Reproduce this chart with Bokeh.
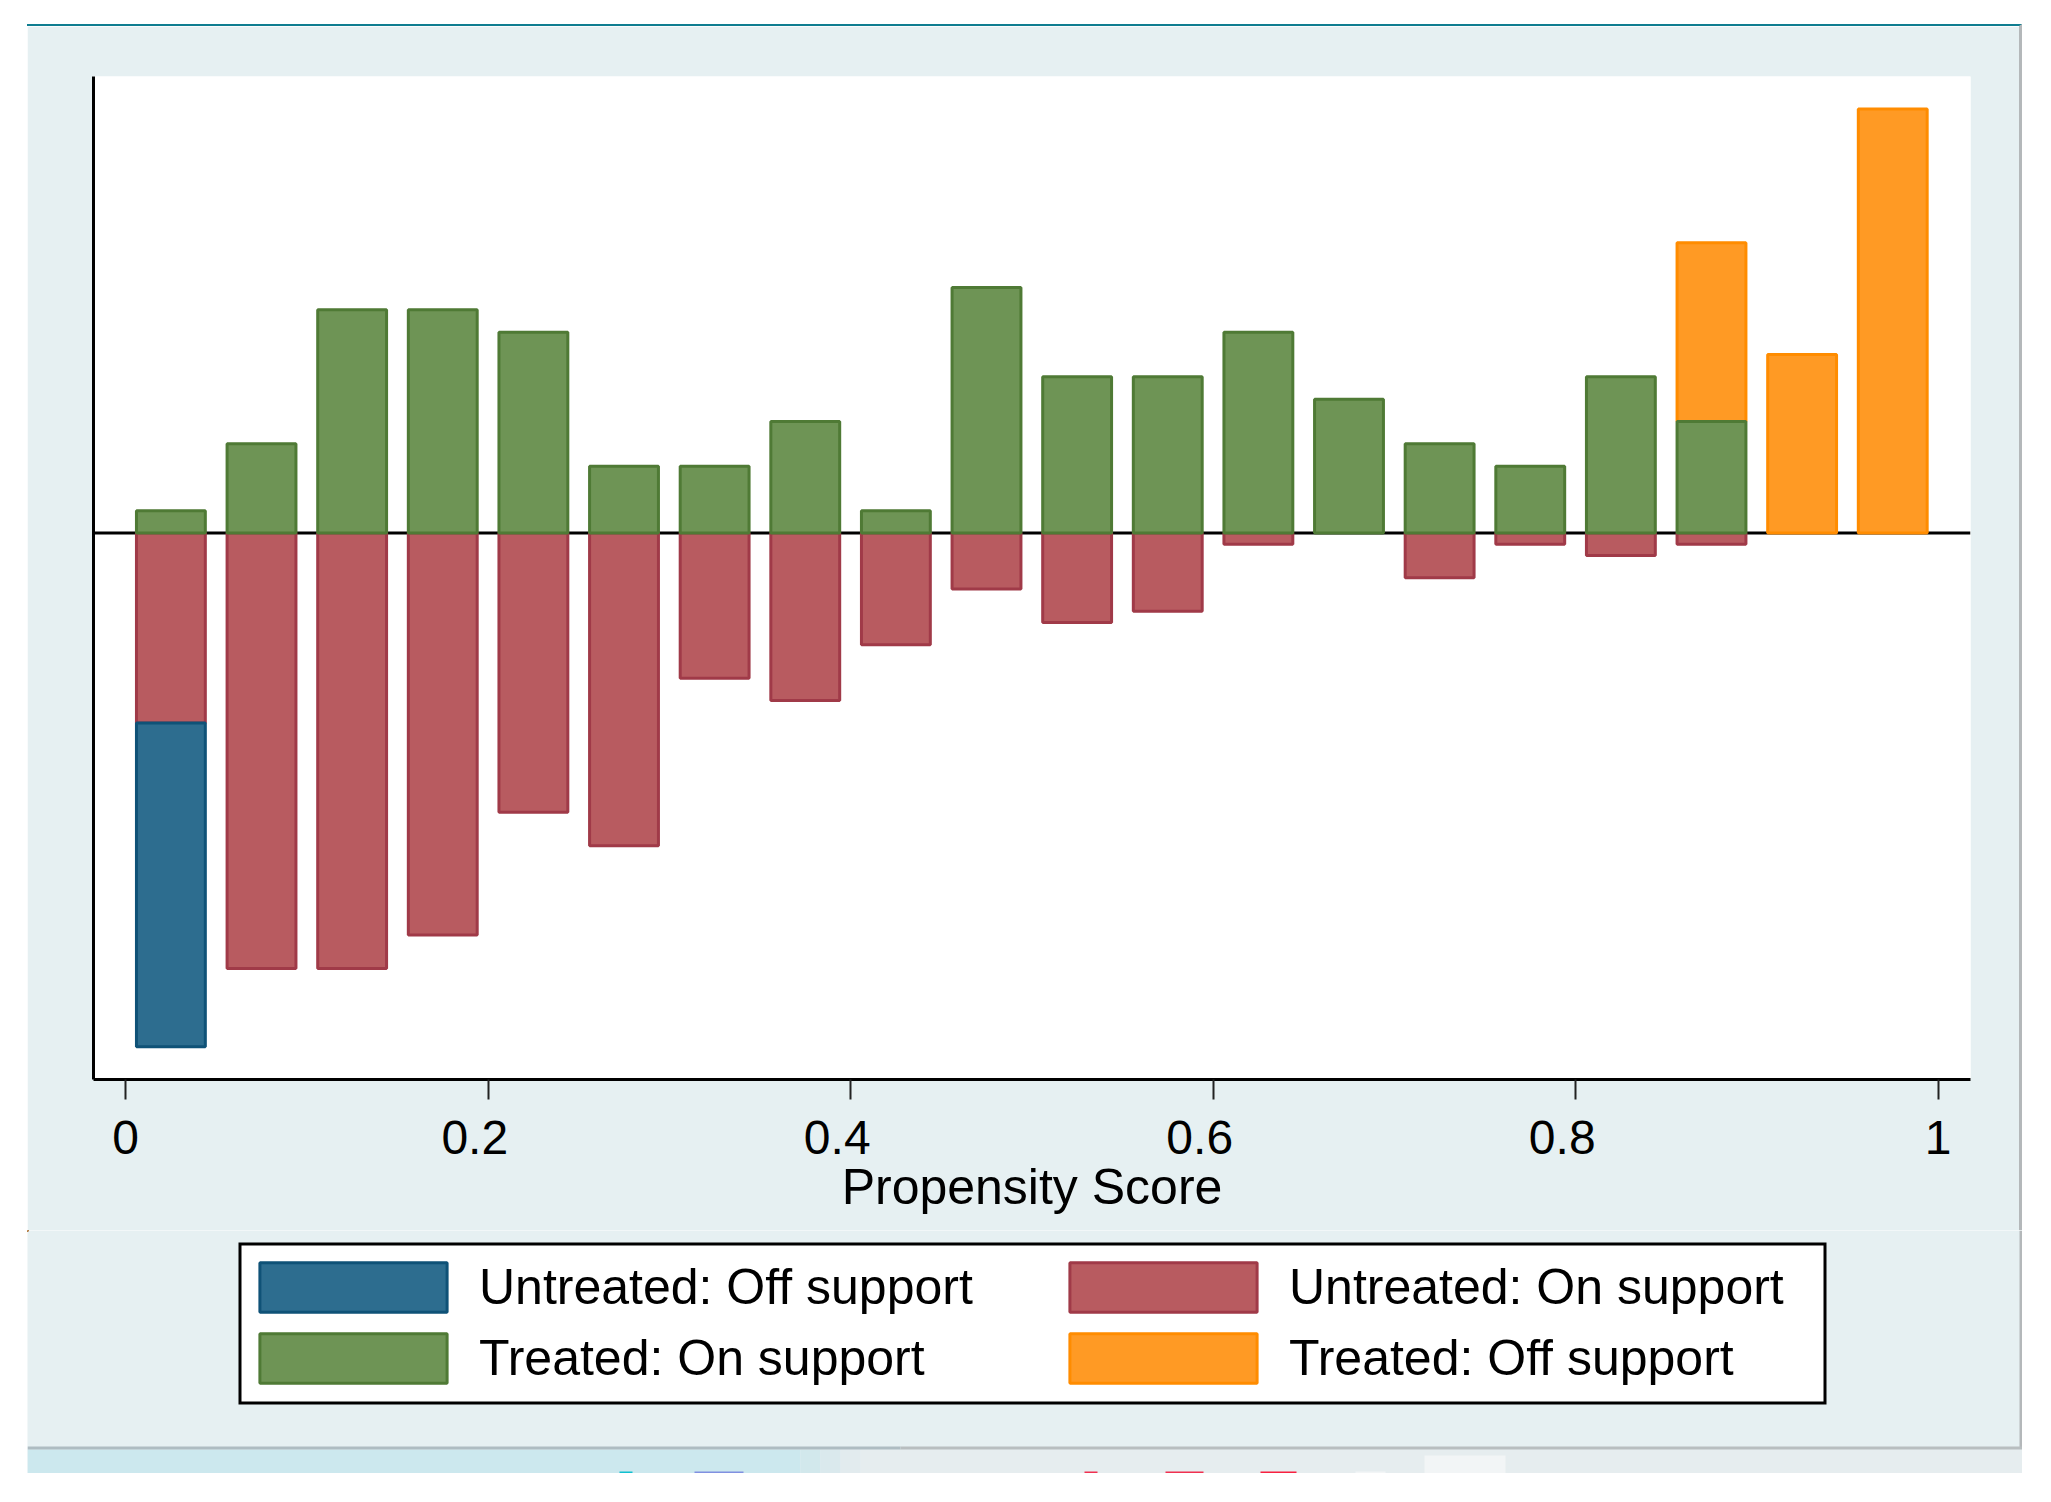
from bokeh.plotting import figure
from bokeh.layouts import column
from bokeh.models import Span, Legend, LegendItem, FixedTicker, Range1d
from bokeh.embed import file_html
from bokeh.resources import INLINE

bin_centers = [0.025, 0.075, 0.125, 0.175, 0.225, 0.275, 0.325, 0.375, 0.425, 0.475,
               0.525, 0.575, 0.625, 0.675, 0.725, 0.775, 0.825, 0.875, 0.925, 0.975]
treated_on = [1, 4, 10, 10, 9, 3, 3, 5, 1, 11, 7, 7, 9, 6, 4, 3, 7, 5, 0, 0]
treated_off = [0, 0, 0, 0, 0, 0, 0, 0, 0, 0, 0, 0, 0, 0, 0, 0, 0, 8, 8, 19]
untreated_on = [8.5, 19.5, 19.5, 18, 12.5, 14, 6.5, 7.5, 5, 2.5, 4, 3.5, 0.5, 0, 2, 0.5, 1, 0.5, 0, 0]
untreated_off = [14.5, 0, 0, 0, 0, 0, 0, 0, 0, 0, 0, 0, 0, 0, 0, 0, 0, 0, 0, 0]
tick_values = [0, 0.2, 0.4, 0.6, 0.8, 1]
tick_labels = {0: "0", 0.2: "0.2\u00a0\u00a0", 0.4: "0.4\u00a0\u00a0", 0.6: "0.6\u00a0\u00a0", 0.8: "0.8\u00a0\u00a0", 1: "1"}
x_title = "Propensity Score"
legend_left = ["Untreated: Off support", "Treated: On support"]
legend_right = ["Untreated: On support", "Treated: Off support"]

BAR_W = 0.038
PANEL = "#e6f0f2"
FONT = "Liberation Sans"
STY = {
    "blue": dict(fill_color="#2d6d8f", line_color="#0f5277"),
    "red": dict(fill_color="#b85b60", line_color="#a03a48"),
    "green": dict(fill_color="#6e9455", line_color="#4f7a35"),
    "orange": dict(fill_color="#ff9a24", line_color="#ff8c00"),
}

# page position of the panel
PX, PY = 27, 24
TOP_H = 1206
BOT_H = 243

p = figure(width=1995, height=TOP_H, output_backend="svg", toolbar_location=None,
           x_range=Range1d(-0.0177, 1.0179), y_range=Range1d(-24.47, 20.45),
           min_border_left=66, min_border_right=52, min_border_top=50, min_border_bottom=153,
           background_fill_color="white", border_fill_color=PANEL, outline_line_color=None,
           frame_align=False,
           styles={"border-top": "2px solid #0f7d90", "border-right": "3px solid #b4b8ba"})
p.grid.visible = False

p.add_layout(Span(location=0, dimension="width", line_color="black", line_width=3, level="underlay"))

def bars(values, base, sty):
    xs = [x for x, v in zip(bin_centers, values) if v]
    tops = [b + v for v, b in zip(values, base) if v]
    bots = [b for v, b in zip(values, base) if v]
    return p.vbar(x=xs, top=tops, bottom=bots, width=BAR_W, line_width=3, **STY[sty])

zeros = [0] * len(bin_centers)
bars([-v for v in untreated_on], zeros, "red")
bars([-v for v in untreated_off], [-v for v in untreated_on], "blue")
bars(treated_off, treated_on, "orange")
bars(treated_on, zeros, "green")

ax = p.xaxis[0]
ax.ticker = FixedTicker(ticks=tick_values)
ax.major_label_overrides = tick_labels
ax.axis_label = x_title
ax.axis_label_text_font = FONT
ax.axis_label_text_font_size = "50px"
ax.axis_label_text_font_style = "normal"
ax.axis_label_text_color = "black"
ax.axis_label_standoff = -8
ax.major_label_text_font = FONT
ax.major_label_text_font_size = "48px"
ax.major_label_text_color = "black"
ax.major_label_standoff = 11
ax.major_tick_in = 0
ax.major_tick_out = 20
ax.major_tick_line_width = 2
ax.major_tick_line_color = "#222222"
ax.minor_tick_line_color = None
ax.axis_line_color = "black"
ax.axis_line_width = 3

ay = p.yaxis[0]
ay.major_tick_line_color = None
ay.minor_tick_line_color = None
ay.major_label_text_font_size = "0px"
ay.major_label_text_color = None
ay.axis_line_color = "black"
ay.axis_line_width = 3

# lower figure: legend and the window strip; its ranges are page pixels
Q_TOP = PY + TOP_H + 2
q = figure(width=1995, height=BOT_H, output_backend="svg", toolbar_location=None,
           x_range=Range1d(PX, PX + 1995), y_range=Range1d(Q_TOP + BOT_H, Q_TOP),
           x_axis_type=None, y_axis_type=None, min_border=0,
           min_border_left=0, min_border_right=0, min_border_top=0, min_border_bottom=0,
           frame_align=False,
           background_fill_color=PANEL, border_fill_color=PANEL, outline_line_color=None)
q.grid.visible = False

def box(l, r, t, b, color):
    q.quad(left=l, right=r, top=t, bottom=b, fill_color=color, line_color=None)

box(2019, 2022, Q_TOP, 1450, "#b4b8ba")
box(27, 800, 1451, 1475, "#cce8ee")
box(800, 820, 1451, 1475, "#d2e8ec")
box(820, 840, 1451, 1475, "#dae9ed")
box(840, 860, 1451, 1475, "#e2ebee")
box(860, 2022, 1451, 1475, "#e6edef")
box(27, 900, 1448, 1451, "#aebcc2")
box(900, 2022, 1448, 1451, "#b8bec0")
box(619, 632, 1473, 1475, "#10c0d0")
box(694, 743, 1473, 1475, "#8090e0")
box(1084, 1097, 1473, 1475, "#f03050")
box(1165, 1203, 1473, 1475, "#f03050")
box(1260, 1296, 1473, 1475, "#f82040")
box(1355, 1385, 1473, 1475, "#f2f5f6")
box(1424, 1505, 1457, 1475, "#f2f5f6")

box(238, 1826, 1244, 1406, "black")
box(241, 1823, 1247, 1403, "white")

def swatch(sty):
    # a bar placed beyond the range: only its legend sample is seen
    return q.vbar(x=[-1000], top=[-1000], bottom=[-1001], width=1, line_width=3, **STY[sty])

# Bokeh insets a bar's legend sample by 10% per side, so the sample box is set larger
def make_legend(labels, stys, x, y):
    leg = Legend(items=[LegendItem(label=t, renderers=[swatch(s)]) for t, s in zip(labels, stys)],
                 location=(x, y), orientation="vertical",
                 glyph_width=234, glyph_height=62, spacing=9, padding=0, margin=0,
                 label_standoff=9, label_text_font=FONT, label_text_font_size="50px",
                 label_text_color="black", label_height=62,
                 background_fill_alpha=0, border_line_color=None)
    q.add_layout(leg, "center")

make_legend(legend_left, ["blue", "green"], 236 - PX, 1475 - 1391)
make_legend(legend_right, ["red", "orange"], 1046 - PX, 1475 - 1391)

root = column(p, q, spacing=0, margin=(PY, 0, 0, PX))
open("out.html", "w").write(file_html(root, INLINE))
